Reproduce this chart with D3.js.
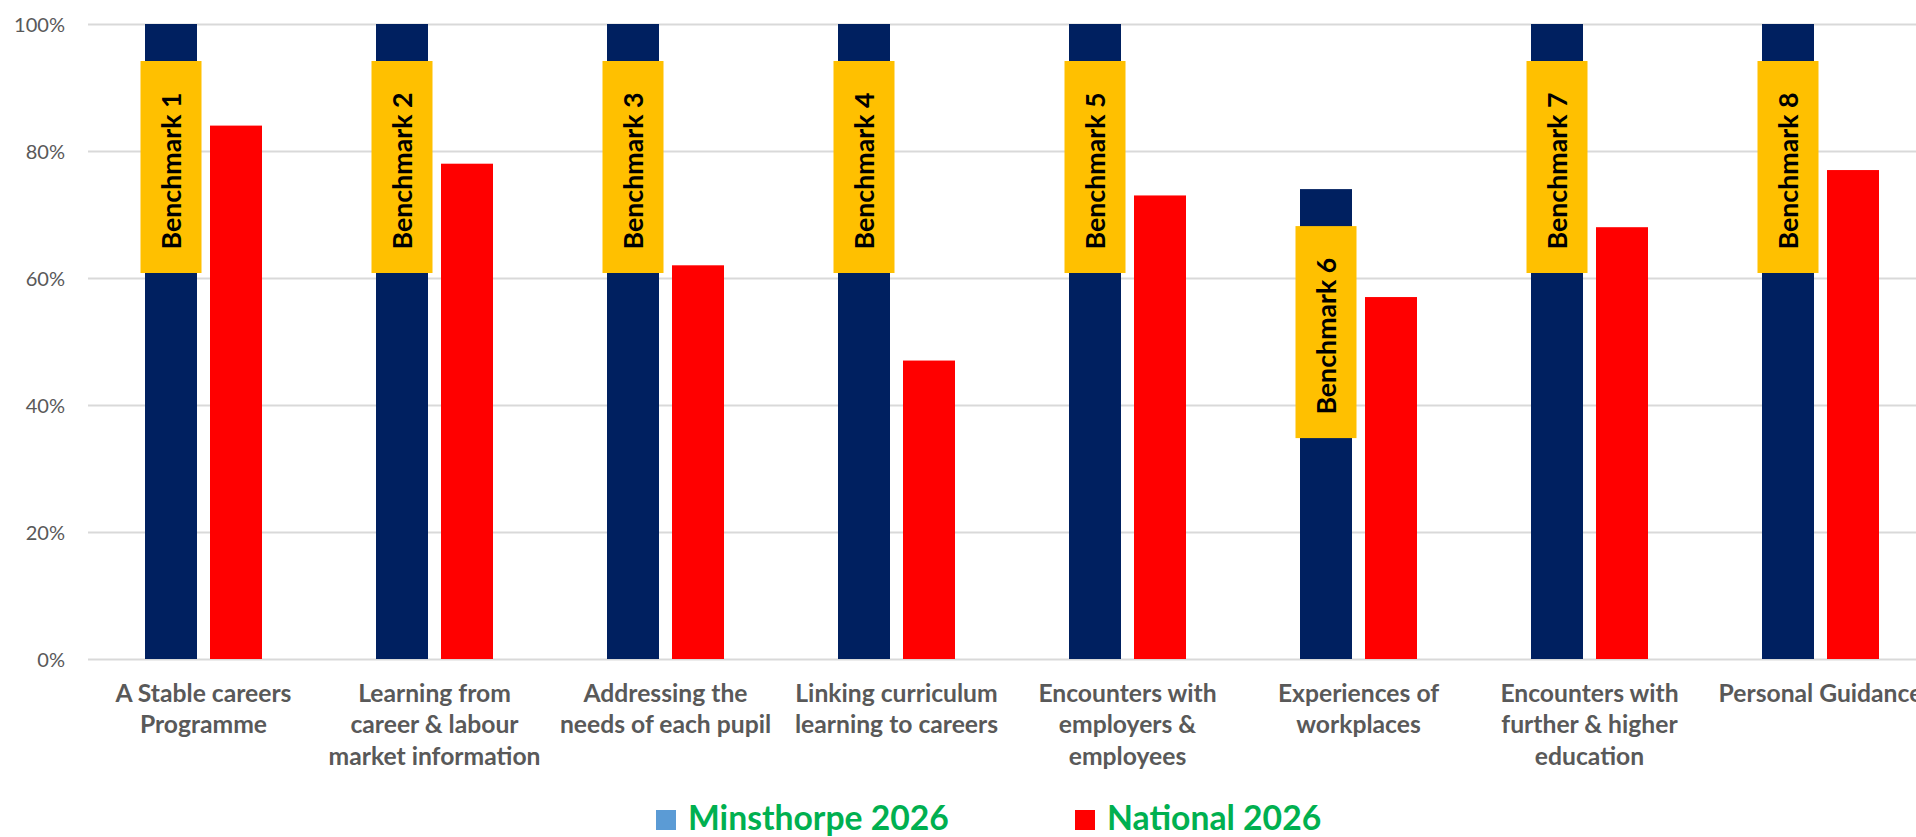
<!DOCTYPE html>
<html>
<head>
<meta charset="utf-8">
<script src="https://cdn.jsdelivr.net/npm/d3@7"></script>
<style>
  html, body { margin: 0; padding: 0; background: #fff; overflow: hidden; }
  svg { display: block; font-family: Lato, "Open Sans", sans-serif; }
</style>
</head>
<body>
<svg id="chart" width="1916" height="837"></svg>
<script>
// ---- data ----
const categories = [
  "A Stable careers\nProgramme",
  "Learning from\ncareer & labour\nmarket information",
  "Addressing the\nneeds of each pupil",
  "Linking curriculum\nlearning to careers",
  "Encounters with\nemployers &\nemployees",
  "Experiences of\nworkplaces",
  "Encounters with\nfurther & higher\neducation",
  "Personal Guidance"
];
const benchmarkLabels = ["Benchmark 1","Benchmark 2","Benchmark 3","Benchmark 4","Benchmark 5","Benchmark 6","Benchmark 7","Benchmark 8"];
const seriesNames = ["Minsthorpe 2026", "National 2026"];
const minsthorpe = [100, 100, 100, 100, 100, 74, 100, 100];
const national   = [84, 78, 62, 47, 73, 57, 68, 77];
const yTicks = [0, 20, 40, 60, 80, 100];

// ---- layout ----
(function () {
const svg = d3.select("#chart");
const plotLeft = 88, band = 231, plotTop = 24, plotBottom = 659;
const plotRight = plotLeft + band * categories.length;
const barColors = ["#002060", "#FF0000"];
const legendColors = ["#5B9BD5", "#FF0000"];

// fit a font size so a sample string has a target width
function fitSize(text, weight, target) {
  const t = svg.append("text").attr("font-size", 100).attr("font-weight", weight).text(text);
  const w = t.node().getComputedTextLength();
  t.remove();
  return 100 * target / w;
}
const catSize = fitSize("A Stable careers", 700, 176);
const bmSize = fitSize("Benchmark 1", 700, 157);
const legSize = fitSize("Minsthorpe 2026", 700, 261);
const tickSize = fitSize("100%", 400, 51);

const x = d3.scaleBand().domain(d3.range(categories.length)).range([plotLeft, plotRight]);
const xs = d3.scaleBand().domain([0, 1]).range([57, 174]).paddingInner(0.2);
const y = d3.scaleLinear().domain([0, 100]).range([plotBottom, plotTop]);

// gridlines + y axis
const yAxis = d3.axisLeft(y).tickValues(yTicks).tickFormat(d => d + "%")
  .tickSize(-(plotRight + 60 - plotLeft)).tickPadding(23);
const gy = svg.append("g").attr("transform", `translate(${plotLeft},0)`).call(yAxis);
gy.select(".domain").remove();
gy.selectAll(".tick line").attr("stroke", "#D9D9D9").attr("stroke-width", 2);
gy.selectAll(".tick text")
  .attr("fill", "#595959").attr("font-size", tickSize)
  .attr("font-family", "Lato, sans-serif").attr("dy", "0.36em");

// bars
const data = categories.map((c, i) => ({ i, vals: [minsthorpe[i], national[i]] }));
const groups = svg.append("g").selectAll("g").data(data).join("g")
  .attr("transform", d => `translate(${x(d.i)},0)`);
groups.selectAll("rect").data(d => d.vals.map((v, s) => ({ v, s }))).join("rect")
  .attr("x", d => xs(d.s)).attr("width", xs.bandwidth())
  .attr("y", d => y(d.v)).attr("height", d => y(0) - y(d.v))
  .attr("fill", d => barColors[d.s]);

// benchmark labels (inside end of Minsthorpe bars)
const boxW = 61, boxH = 212, boxOff = 37;
const capH = bmSize * 0.72;
data.forEach(d => {
  const cx = x(d.i) + xs(0) + xs.bandwidth() / 2;
  const by = y(d.vals[0]) + boxOff;
  svg.append("rect").attr("x", cx - boxW / 2).attr("y", by)
    .attr("width", boxW).attr("height", boxH).attr("fill", "#FFC000");
  const tx = cx + capH / 2, ty = by + boxH / 2 + 4;
  svg.append("text")
    .attr("transform", `translate(${tx},${ty}) rotate(-90)`)
    .attr("text-anchor", "middle").attr("font-weight", 700)
    .attr("font-size", bmSize).attr("fill", "#000")
    .text(benchmarkLabels[d.i]);
});

// category labels
const lineH = 31.7;
categories.forEach((c, i) => {
  const t = svg.append("text").attr("text-anchor", "middle")
    .attr("font-weight", 700).attr("font-size", catSize).attr("fill", "#595959");
  c.split("\n").forEach((line, k) => {
    t.append("tspan").attr("x", x(i) + band / 2).attr("y", 701.7 + k * lineH).text(line);
  });
});

// legend
const legX = [656, 1075];
seriesNames.forEach((n, s) => {
  svg.append("rect").attr("x", legX[s]).attr("y", 810).attr("width", 20).attr("height", 20)
    .attr("fill", legendColors[s]);
  svg.append("text").attr("x", legX[s] + 32).attr("y", 829.5)
    .attr("font-weight", 700).attr("font-size", legSize).attr("fill", "#00B050").text(n);
});
})();
</script>
</body>
</html>
